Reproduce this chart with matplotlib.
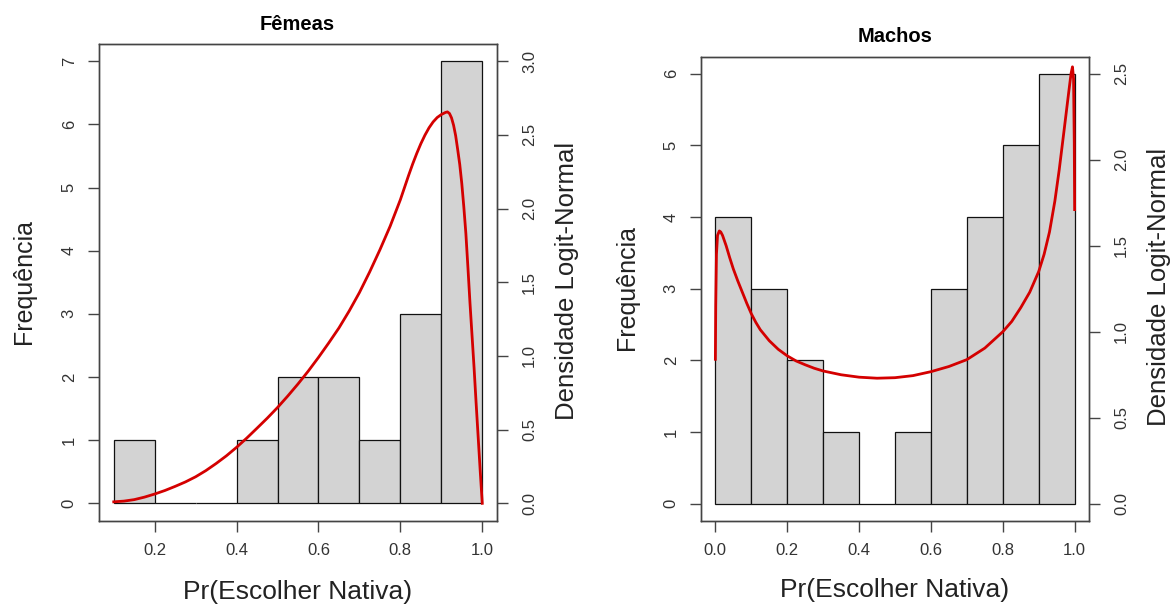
import numpy as np
import matplotlib
matplotlib.use("Agg")
import matplotlib.pyplot as plt

plt.rcParams['font.family'] = ['Liberation Sans', 'DejaVu Sans']

W, H = 1171, 605

# Femeas: histogram bins and counts
fem_bins = [0.1, 0.2, 0.3, 0.4, 0.5, 0.6, 0.7, 0.8, 0.9, 1.0]
fem_counts = [1, 0, 0, 1, 2, 2, 1, 3, 7]
# logit-normal density curve
fem_cx = [0.100, 0.125, 0.150, 0.175, 0.200, 0.225, 0.250, 0.275, 0.300,
          0.325, 0.350, 0.375, 0.400, 0.425, 0.450, 0.475, 0.500, 0.525,
          0.550, 0.575, 0.600, 0.625, 0.650, 0.675, 0.700, 0.725, 0.750,
          0.775, 0.80, 0.81, 0.82, 0.83, 0.84, 0.85, 0.86, 0.87, 0.88, 0.89,
          0.90, 0.91, 0.915, 0.92, 0.925, 0.93, 0.935, 0.94, 0.945, 0.95,
          0.955, 0.96, 0.965, 0.97, 0.975, 0.98, 0.985, 0.99, 0.995, 1.00]
fem_cy = [0.010, 0.015, 0.025, 0.042, 0.063, 0.087, 0.115, 0.145, 0.180,
          0.222, 0.270, 0.322, 0.380, 0.443, 0.510, 0.578, 0.650, 0.728,
          0.810, 0.897, 0.990, 1.088, 1.190, 1.305, 1.430, 1.570, 1.720,
          1.880, 2.060, 2.142, 2.224, 2.302, 2.374, 2.440, 2.498, 2.548,
          2.588, 2.618, 2.638, 2.652, 2.656, 2.645, 2.615, 2.565, 2.495,
          2.40, 2.30, 2.17, 2.01, 1.83, 1.60, 1.36, 1.14, 0.92, 0.68, 0.45,
          0.22, 0.0]

# Machos
mac_bins = [0.0, 0.1, 0.2, 0.3, 0.4, 0.5, 0.6, 0.7, 0.8, 0.9, 1.0]
mac_counts = [4, 3, 2, 1, 0, 1, 3, 4, 5, 6]
mac_cx = [0.000, 0.001, 0.003, 0.006, 0.011, 0.015, 0.020, 0.030, 0.040,
          0.050, 0.0625, 0.075, 0.0875, 0.100, 0.1125, 0.125, 0.150, 0.175,
          0.200, 0.225, 0.250, 0.275, 0.300, 0.350, 0.400, 0.450, 0.500,
          0.550, 0.600, 0.650, 0.700, 0.750, 0.800, 0.825, 0.850, 0.875,
          0.900, 0.915, 0.930, 0.945, 0.957, 0.970, 0.984, 0.990, 0.994,
          0.997, 0.999, 1.000]
mac_cy = [0.84, 1.15, 1.45, 1.56, 1.586, 1.58, 1.56, 1.50, 1.43,
          1.365, 1.295, 1.23, 1.165, 1.105, 1.055, 1.012, 0.948, 0.898,
          0.860, 0.830, 0.808, 0.788, 0.772, 0.750, 0.736, 0.730, 0.733,
          0.745, 0.768, 0.798, 0.838, 0.905, 1.00, 1.06, 1.14, 1.23,
          1.35, 1.45, 1.58, 1.76, 1.94, 2.16, 2.40, 2.50, 2.54,
          2.47, 2.10, 1.71]

fig = plt.figure(figsize=(W / 100, H / 100), dpi=100)

TXT = '#222222'
AX = '#444444'


def rect(x0, y0, x1, y1):
    return [x0 / W, 1 - y1 / H, (x1 - x0) / W, (y1 - y0) / H]


def panel(box, bins, counts, cx, cy, xlim, ylim, dlim, xticks, xlabels,
          yticks, dticks, dlabels, title, pos):
    ax = fig.add_axes(rect(*box))
    ax.bar(bins[:-1], counts, width=np.diff(bins), align='edge',
           color='#d3d3d3', edgecolor='#111111', linewidth=0.9)
    ax.set_xlim(*xlim)
    ax.set_ylim(*ylim)
    ax.set_xticks(xticks)
    ax.set_xticklabels(xlabels)
    ax.set_yticks(yticks)
    ax.set_yticklabels([str(v) for v in yticks], rotation=90, va='center')
    ax.tick_params(direction='out', length=8, width=1, color=AX,
                   labelsize=12, labelcolor='#333333', pad=8)
    for s in ax.spines.values():
        s.set_color(AX)
        s.set_linewidth(1)

    ax2 = ax.twinx()
    ax2.plot(cx, cy, color='#d40000', lw=2, solid_joinstyle='round')
    ax2.set_ylim(*dlim)
    ax2.set_yticks(dticks)
    ax2.set_yticklabels(dlabels, rotation=90, va='center')
    ax2.tick_params(direction='out', length=8, width=1, color=AX,
                    labelsize=12, labelcolor='#333333', pad=10)
    for s in ax2.spines.values():
        s.set_color(AX)
        s.set_linewidth(1)

    tx, ty, xlx, xly, ylx, yly, dlx, dly = pos
    fig.text(tx / W, 1 - ty / H, title, ha='center', va='center',
             fontsize=14.5, fontweight='bold', color='black')
    fig.text(xlx / W, 1 - xly / H, 'Pr(Escolher Nativa)', ha='center',
             va='center', fontsize=19, color=TXT)
    fig.text(ylx / W, 1 - yly / H, 'Frequência', ha='center', va='center',
             rotation=90, fontsize=18, color=TXT)
    fig.text(dlx / W, 1 - dly / H, 'Densidade Logit-Normal', ha='center',
             va='center', rotation=90, fontsize=18.5, color=TXT)


panel((99, 43.5, 497, 521), fem_bins, fem_counts, fem_cx, fem_cy,
      (0.064, 1.036), (-0.28, 7.28), (-0.12, 3.12),
      [0.2, 0.4, 0.6, 0.8, 1.0], ['0.2', '0.4', '0.6', '0.8', '1.0'],
      list(range(8)), [0, 0.5, 1, 1.5, 2, 2.5, 3],
      ['0.0', '0.5', '1.0', '1.5', '2.0', '2.5', '3.0'], 'Fêmeas',
      (297, 25, 298, 592, 24, 281, 567, 281))

panel((701, 56.5, 1089, 521), mac_bins, mac_counts, mac_cx, mac_cy,
      (-0.04, 1.04), (-0.24, 6.24), (-0.1, 2.6),
      [0.0, 0.2, 0.4, 0.6, 0.8, 1.0], ['0.0', '0.2', '0.4', '0.6', '0.8', '1.0'],
      list(range(7)), [0, 0.5, 1, 1.5, 2, 2.5],
      ['0.0', '0.5', '1.0', '1.5', '2.0', '2.5'], 'Machos',
      (895, 37, 895, 590, 627, 287, 1159, 287))

fig.savefig('out.png', dpi=100)
